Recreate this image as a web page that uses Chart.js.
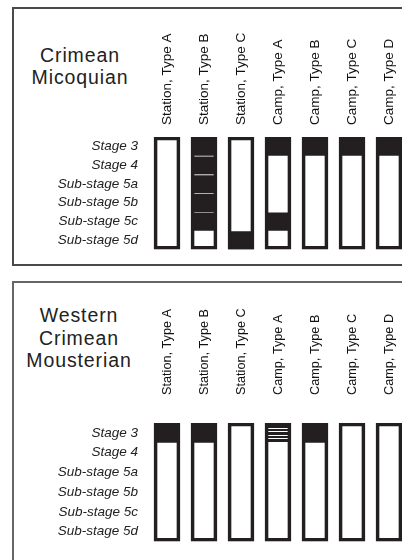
<!DOCTYPE html>
<html>
<head>
<meta charset="utf-8">
<script src="https://cdn.jsdelivr.net/npm/chart.js@4.4.1/dist/chart.umd.min.js"></script>
<style>
  html, body { margin: 0; padding: 0; background: #fff; overflow: hidden; width: 402px; height: 560px; }
  body { position: relative; font-family: "Liberation Sans", Arial, sans-serif; color: #222; }
  canvas { position: absolute; left: 0; }
  .frame { position: absolute; border: 0 solid #4a4a4a; }
  .title { position: absolute; text-align: center; font-size: 19.5px; letter-spacing: 0.9px; color: #222; }
</style>
</head>
<body>
<div class="frame" style="left:12px; top:7px; width:400px; height:255px; border-width:2px 0 2px 2px;"></div>
<div class="frame" style="left:12px; top:281px; width:400px; height:300px; border-width:2px 0 0 2px; border-color:#666;"></div>
<div class="title" style="left:20px; top:45px; width:120px; line-height:21.5px;">Crimean<br>Micoquian</div>
<div class="title" style="left:18px; top:304px; width:122px; line-height:22.5px;">Western<br>Crimean<br>Mousterian</div>
<canvas id="micoquian" width="420" height="268" style="top:0px"></canvas>
<canvas id="mousterian" width="420" height="278" style="top:282px"></canvas>
<script>
// site types (columns) and stratigraphic units (rows)
const siteTypes = ['Station, Type A', 'Station, Type B', 'Station, Type C', 'Camp, Type A', 'Camp, Type B', 'Camp, Type C', 'Camp, Type D'];
const stages = ['Stage 3', 'Stage 4', 'Sub-stage 5a', 'Sub-stage 5b', 'Sub-stage 5c', 'Sub-stage 5d'];

// 0 = absent, 1 = present (black), 2 = present, hatched
// one row per stage, one value per site type
const micoquianPresence = [
  [0, 1, 0, 1, 1, 1, 1],
  [0, 1, 0, 0, 0, 0, 0],
  [0, 1, 0, 0, 0, 0, 0],
  [0, 1, 0, 0, 0, 0, 0],
  [0, 1, 0, 1, 0, 0, 0],
  [0, 0, 1, 0, 0, 0, 0]
];
const mousterianPresence = [
  [1, 1, 0, 2, 1, 0, 0],
  [0, 0, 0, 0, 0, 0, 0],
  [0, 0, 0, 0, 0, 0, 0],
  [0, 0, 0, 0, 0, 0, 0],
  [0, 0, 0, 0, 0, 0, 0],
  [0, 0, 0, 0, 0, 0, 0]
];

const INK = '#231f20';
const FONT = '"Liberation Sans", Arial, sans-serif';

// horizontal hatching for the "2" cells
function makeHatch() {
  const c = document.createElement('canvas');
  c.width = 4; c.height = 7;
  const g = c.getContext('2d');
  g.fillStyle = INK;
  g.fillRect(0, 0, 4, 7);
  g.fillStyle = '#fff';
  g.fillRect(0, 2, 4, 1);
  g.fillRect(0, 6, 4, 1);
  return g.createPattern(c, 'repeat');
}
const hatch = makeHatch();

function buildDatasets(presence) {
  const sets = [];
  // outline of each column, drawn on top
  sets.push({
    data: siteTypes.map(() => [0, stages.length]),
    backgroundColor: 'rgba(0,0,0,0)',
    borderColor: INK,
    borderWidth: 3,
    borderSkipped: false,
    order: 0
  });
  presence.forEach((row, i) => {
    sets.push({
      data: row.map(v => v ? [i, i + 1] : null),
      backgroundColor: row.map(v => v === 2 ? hatch : INK),
      borderColor: '#fff',
      borderWidth: { top: 1, bottom: 0, left: 0, right: 0 },
      borderSkipped: false,
      order: 1
    });
  });
  return sets;
}

function makePanel(id, presence, o) {
  return new Chart(document.getElementById(id), {
    type: 'bar',
    data: { labels: siteTypes, datasets: buildDatasets(presence) },
    options: {
      responsive: false,
      animation: false,
      devicePixelRatio: 1,
      layout: { padding: { left: 0, right: 12.5, top: 0, bottom: o.padBottom } },
      datasets: { bar: { grouped: false, barThickness: 26 } },
      plugins: { legend: { display: false }, tooltip: { enabled: false } },
      scales: {
        x: {
          position: 'top',
          grid: { display: false, drawTicks: false },
          border: { display: false },
          afterFit: s => { s.height = o.axisTop; },
          ticks: {
            autoSkip: false,
            minRotation: 90,
            maxRotation: 90,
            padding: o.labelPad,
            labelOffset: o.headSize * 1.2,
            color: '#111',
            font: { family: FONT, size: o.headSize }
          }
        },
        y: {
          min: 0,
          max: stages.length,
          reverse: true,
          grid: { display: false, drawTicks: false },
          border: { display: false },
          afterFit: s => { s.width = 148.5; },
          afterBuildTicks: s => { s.ticks = stages.map((_, i) => ({ value: i + 0.5 })); },
          ticks: {
            padding: 10.5,
            color: '#222',
            font: { family: FONT, size: 13.5, style: 'italic' },
            callback: v => stages[Math.floor(v)]
          }
        }
      }
    }
  });
}

makePanel('micoquian', micoquianPresence, { padBottom: 11, axisTop: 137, labelPad: 12, headSize: 13.5 });
makePanel('mousterian', mousterianPresence, { padBottom: 13, axisTop: 141, labelPad: 28, headSize: 12.7 });
</script>
</body>
</html>
